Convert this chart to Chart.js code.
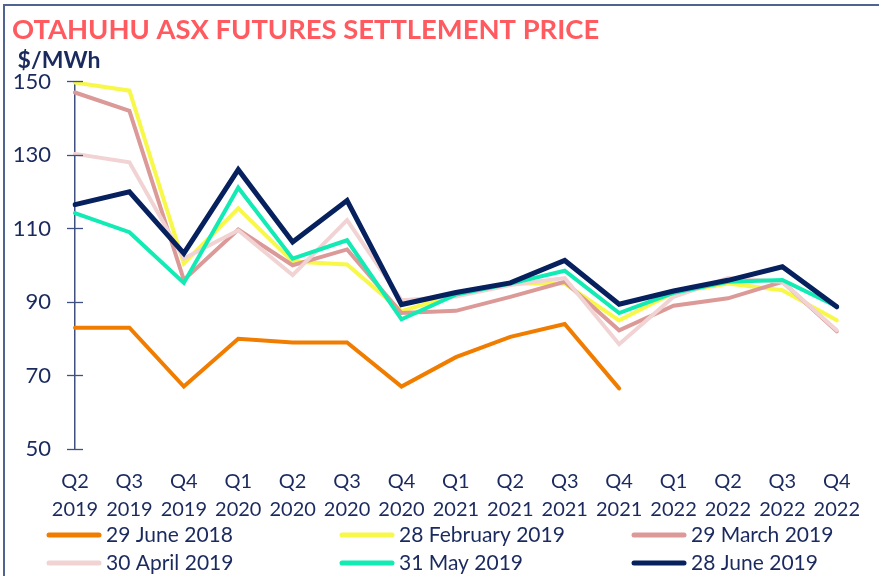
<!DOCTYPE html>
<html>
<head>
<meta charset="utf-8">
<script src="https://cdn.jsdelivr.net/npm/chart.js@4/dist/chart.umd.min.js"></script>
<style>
  html, body { margin: 0; padding: 0; background: #ffffff; }
  #wrap { position: relative; width: 879px; height: 576px; }
</style>
</head>
<body>
<div id="wrap"><canvas id="c" width="879" height="576"></canvas></div>
<script>
// ---- Data ----
const categories = [
  ['Q2','2019'], ['Q3','2019'], ['Q4','2019'], ['Q1','2020'], ['Q2','2020'],
  ['Q3','2020'], ['Q4','2020'], ['Q1','2021'], ['Q2','2021'], ['Q3','2021'],
  ['Q4','2021'], ['Q1','2022'], ['Q2','2022'], ['Q3','2022'], ['Q4','2022']
];
const seriesNames = ['29 June 2018', '28 February 2019', '29 March 2019', '30 April 2019', '31 May 2019', '28 June 2019'];
const june2018 = [83, 83, 67, 80, 79, 79, 67, 75, 80.5, 84, 66.5, null, null, null, null];
const feb2019  = [149.7, 147.5, 100.5, 115.5, 101, 100.2, 87.5, 92, 95, 95, 85, 92.5, 95, 93.2, 85];
const mar2019  = [147, 142, 96, 109.7, 100, 104.3, 87, 87.6, 91.4, 95.5, 82.3, 89, 91, 95.5, 82];
const apr2019  = [130.3, 128, 101.8, 109.5, 97.3, 112.3, 90.5, 91.5, 94.6, 96.5, 78.5, 91.4, 96.5, 95.5, 82.3];
const may2019  = [114.2, 109, 95.2, 121.1, 101.8, 106.8, 85.3, 92, 95, 98.5, 87, 92.5, 95.5, 96, 88.8];
const jun2019  = [116.5, 120, 103.2, 126, 106.3, 117.6, 89.3, 92.6, 95.2, 101.3, 89.4, 93, 95.9, 99.6, 88.7];
const yTicks = [50, 70, 90, 110, 130, 150];
const titleText = 'OTAHUHU ASX FUTURES SETTLEMENT PRICE';
const unitText = '$/MWh';

// ---- Styles ----
const NAVY = '#1B2A5E';
const colors = ['#F07D00', '#F8F84A', '#DB9A97', '#F2D3D4', '#13EBB4', '#06215E'];
const widths = [4, 4, 4, 4, 4, 5];
const seriesData = [june2018, feb2019, mar2019, apr2019, may2019, jun2019];

const datasets = seriesData.map((d, i) => ({
  label: seriesNames[i],
  data: d,
  borderColor: colors[i],
  backgroundColor: colors[i],
  borderWidth: widths[i],
  pointRadius: 0,
  pointHoverRadius: 0,
  tension: 0,
  fill: false,
  borderCapStyle: 'round',
  borderJoinStyle: 'miter',
  order: 6 - i
}));

const framePlugin = {
  id: 'frame',
  beforeDraw(chart) {
    const ctx = chart.ctx;
    ctx.save();
    ctx.strokeStyle = '#4E6591';
    ctx.lineWidth = 2;
    ctx.beginPath();
    ctx.moveTo(4, 576);
    ctx.lineTo(4, 5);
    ctx.lineTo(879, 5);
    ctx.stroke();
    ctx.restore();
  }
};

const crossTicksPlugin = {
  id: 'crossTicks',
  afterDatasetsDraw(chart) {
    const s = chart.scales.y;
    const ctx = chart.ctx;
    ctx.save();
    ctx.strokeStyle = '#3F5182';
    ctx.lineWidth = 1.3;
    s.ticks.forEach(t => {
      const py = Math.round(s.getPixelForValue(t.value)) + 0.5;
      ctx.beginPath();
      ctx.moveTo(s.right - 8, py);
      ctx.lineTo(s.right + 8, py);
      ctx.stroke();
    });
    ctx.restore();
  }
};

const gridLegendPlugin = {
  id: 'gridLegend',
  afterDraw(chart) {
    const ctx = chart.ctx;
    const colX = [47, 340, 632];
    const rowY = [535, 563];
    ctx.save();
    ctx.font = '21px Lato';
    ctx.textBaseline = 'middle';
    ctx.textAlign = 'left';
    chart.data.datasets.forEach((ds, i) => {
      const x = colX[i % 3];
      const y = rowY[Math.floor(i / 3)];
      ctx.strokeStyle = ds.borderColor;
      ctx.lineWidth = 5;
      ctx.lineCap = 'round';
      ctx.beginPath();
      ctx.moveTo(x + 2, y);
      ctx.lineTo(x + 52, y);
      ctx.stroke();
      ctx.fillStyle = NAVY;
      ctx.fillText(ds.label, x + 59, y);
    });
    ctx.restore();
  }
};

new Chart(document.getElementById('c'), {
  type: 'line',
  data: { labels: categories, datasets: datasets },
  options: {
    responsive: false,
    animation: false,
    layout: { padding: { left: 12, right: 32, top: 0, bottom: 54 } },
    plugins: {
      legend: { display: false },
      tooltip: { enabled: false },
      title: {
        display: true,
        text: titleText,
        align: 'start',
        color: '#FF5A5F',
        font: { family: 'Lato', size: 27.4, weight: 'bold', lineHeight: 1.2 },
        padding: { top: 14, bottom: 0 }
      },
      subtitle: {
        display: true,
        text: ' ' + unitText,
        align: 'start',
        color: NAVY,
        font: { family: 'Lato', size: 23, weight: 'bold', lineHeight: 1.2 },
        padding: { top: 0, bottom: 7 }
      }
    },
    scales: {
      x: {
        offset: false,
        grid: { display: false, drawTicks: false },
        border: { display: false },
        ticks: {
          color: NAVY,
          font: { family: 'Lato', size: 20, lineHeight: 1.4 },
          padding: 19,
          maxRotation: 0,
          minRotation: 0,
          autoSkip: false
        },
        afterFit(scale) { scale.height = 73; }
      },
      y: {
        min: 50,
        max: 150,
        afterBuildTicks(scale) { scale.ticks = yTicks.map(v => ({ value: v })); },
        grid: { display: false, drawTicks: false },
        border: { display: true, color: '#3F5182', width: 1.5 },
        ticks: {
          color: NAVY,
          font: { family: 'Lato', size: 22 },
          padding: 24
        },
        afterFit(scale) { scale.width = 63; }
      }
    }
  },
  plugins: [framePlugin, crossTicksPlugin, gridLegendPlugin]
});
</script>
</body>
</html>
